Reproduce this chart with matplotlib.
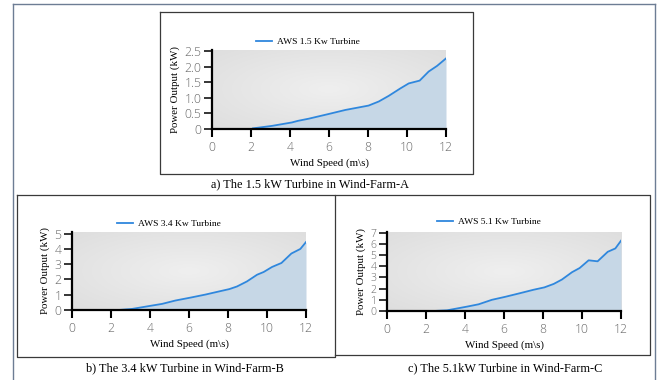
import matplotlib
matplotlib.use('Agg')
import matplotlib.pyplot as plt
import numpy as np
from matplotlib.lines import Line2D
from matplotlib.colors import LinearSegmentedColormap

# power curves (wind speed m/s, power kW)
wind_a = [2.1, 3.08, 4.1, 4.4, 4.96, 5.98, 6.84, 7.35, 8.03, 8.55, 9.06, 9.66,
          10.09, 10.34, 10.65, 11.11, 11.54, 12.0]
power_a = [0.02, 0.10, 0.21, 0.26, 0.33, 0.48, 0.61, 0.67, 0.75, 0.88, 1.06, 1.30,
           1.46, 1.50, 1.55, 1.84, 2.02, 2.26]

wind_b = [2.39, 3.08, 4.1, 4.62, 5.3, 6.07, 6.84, 7.52, 8.07, 8.46, 8.97, 9.49,
          9.83, 10.26, 10.74, 11.25, 11.71, 12.0]
power_b = [0.0, 0.07, 0.29, 0.40, 0.62, 0.81, 1.01, 1.21, 1.37, 1.54, 1.87, 2.31,
           2.49, 2.82, 3.08, 3.70, 4.00, 4.45]

wind_c = [2.39, 3.08, 4.1, 4.7, 5.38, 6.07, 6.84, 7.52, 8.07, 8.55, 8.97, 9.49,
          9.88, 10.34, 10.8, 11.32, 11.71, 12.0]
power_c = [0.0, 0.06, 0.39, 0.60, 1.00, 1.27, 1.60, 1.90, 2.11, 2.42, 2.81, 3.47,
           3.84, 4.53, 4.44, 5.29, 5.59, 6.28]

legend_labels = ['AWS 1.5 Kw Turbine', 'AWS 3.4 Kw Turbine', 'AWS 5.1 Kw Turbine']
captions = ['a) The 1.5 kW Turbine in Wind-Farm-A',
            'b) The 3.4 kW Turbine in Wind-Farm-B',
            'c) The 5.1kW Turbine in Wind-Farm-C']
yticks_a = [0, 0.5, 1.0, 1.5, 2.0, 2.5]
yticklabels_a = ['0', '0.5', '1.0', '1.5', '2.0', '2.5']
yticks_b = [0, 1, 2, 3, 4, 5]
yticks_c = [0, 1, 2, 3, 4, 5, 6, 7]
xticks = [0, 2, 4, 6, 8, 10, 12]

W, H = 660, 380
fig = plt.figure(figsize=(6.6, 3.8), dpi=100)
fig.patch.set_facecolor('white')


def fx(px):
    return px / W


def fy(py):
    return 1 - py / H


def fig_line(xs, ys, color, lw=1.0):
    fig.add_artist(Line2D([fx(v) for v in xs], [fy(v) for v in ys],
                          transform=fig.transFigure, color=color, lw=lw))


# outer frame
frame = '#6d7d94'
fig_line([13, 655], [4, 4], frame)
fig_line([13, 13], [4, 380], frame)
fig_line([655, 655], [4, 380], frame)

# panel boxes
box = '#3a3a3a'
fig_line([160, 473, 473, 160, 160], [12, 12, 174, 174, 12], box, 0.9)
fig_line([17, 335, 335, 17, 17], [195, 195, 357, 357, 195], box, 0.9)
fig_line([335, 650, 650, 335], [195, 195, 355, 355], box, 0.9)

bg = LinearSegmentedColormap.from_list('bg', ['#efefef', '#dedede'])
gy, gx = np.mgrid[0:1:120j, 0:1:200j]
grad = np.sqrt(((gx - 0.5) / 0.75) ** 2 + ((gy - 0.5) / 0.75) ** 2)

serif = 'Liberation Serif'
tickfont = 'Open Sans'


def make_panel(rect, xs, ys, ymax, yt, ytl, label, leg_xy, ysize=8.8):
    l, r, t, b = rect
    ax = fig.add_axes([fx(l), fy(b), fx(r) - fx(l), fy(t) - fy(b)])
    ax.imshow(grad, extent=[0, 12, 0, ymax], aspect='auto', cmap=bg,
              origin='lower', zorder=0, interpolation='bilinear')
    ax.fill_between(xs, ys, 0, color='#c6d7e6', zorder=1, lw=0)
    ln, = ax.plot(xs, ys, color='#2f87dd', lw=1.3, zorder=2, label=label)
    ax.set_xlim(0, 12)
    ax.set_ylim(0, ymax)
    for s in ['top', 'right']:
        ax.spines[s].set_visible(False)
    for s in ['left', 'bottom']:
        ax.spines[s].set_linewidth(1.6)
        ax.spines[s].set_color('black')
    ax.set_xticks(xticks)
    ax.set_yticks(yt)
    if ytl is not None:
        ax.set_yticklabels(ytl)
    ax.tick_params(axis='x', length=6, width=1.5, color='black',
                   labelcolor='#6a6a6a', labelsize=8.8, pad=2.5)
    ax.tick_params(axis='y', length=6, width=1.1, color='black',
                   labelcolor='#6a6a6a', labelsize=ysize, pad=1.5)
    for lab in ax.get_xticklabels() + ax.get_yticklabels():
        lab.set_fontfamily(tickfont)
        lab.set_fontweight('light')
    ax.set_xlabel('Wind Speed (m\\s)', fontfamily=serif, fontsize=7.8,
                  labelpad=3)
    ax.set_ylabel('Power Output (kW)', fontfamily=serif, fontsize=7.8,
                  labelpad=3)
    fig.legend(handles=[ln], loc='center left',
               bbox_to_anchor=(fx(leg_xy[0]), fy(leg_xy[1])),
               frameon=False, handlelength=1.7, handletextpad=0.5,
               borderpad=0, borderaxespad=0,
               prop={'family': serif, 'size': 6.8})
    return ax


make_panel((212, 446, 50, 129), wind_a, power_a, 2.53, yticks_a, yticklabels_a,
           legend_labels[0], (256, 42))
make_panel((72, 306, 232, 310), wind_b, power_b, 5.11, yticks_b, None,
           legend_labels[1], (117, 224))
make_panel((387, 621, 232, 311), wind_c, power_c, 7.06, yticks_c, None,
           legend_labels[2], (437, 222), ysize=7.6)

fig.text(fx(310), fy(184), captions[0], ha='center', va='center',
         fontfamily=serif, fontsize=8.8)
fig.text(fx(185), fy(368), captions[1], ha='center', va='center',
         fontfamily=serif, fontsize=8.8)
fig.text(fx(505), fy(368), captions[2], ha='center', va='center',
         fontfamily=serif, fontsize=8.8)

fig.savefig('out.png', dpi=100)
